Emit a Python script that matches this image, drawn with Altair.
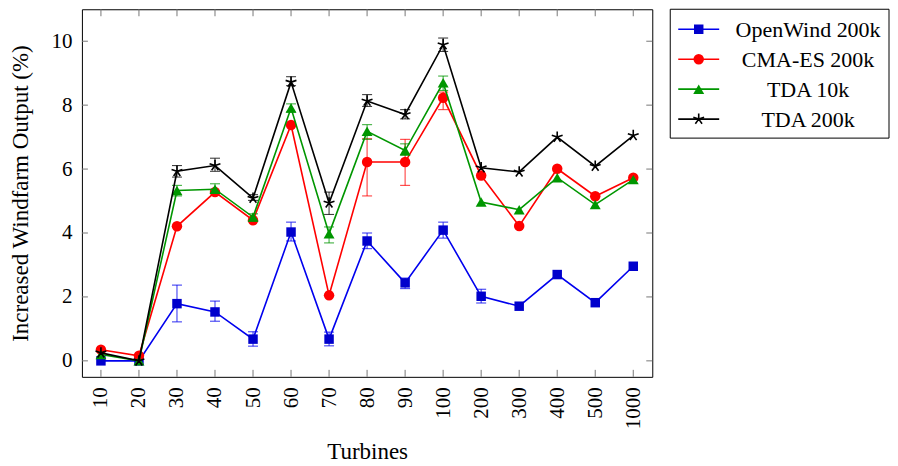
import altair as alt
import pandas as pd

categories = ["10", "20", "30", "40", "50", "60", "70", "80", "90", "100",
              "200", "300", "400", "500", "1000"]
series_names = ["OpenWind 200k", "CMA-ES 200k", "TDA 10k", "TDA 200k"]

openwind = [0.0, 0.0, 1.79, 1.53, 0.68, 4.03, 0.68, 3.75, 2.44, 4.09, 2.02, 1.71, 2.70, 1.82, 2.96]
openwind_lo = [None, None, 1.22, 1.24, 0.46, 3.75, 0.47, 3.51, 2.26, 3.84, 1.81, None, None, None, None]
openwind_hi = [None, None, 2.37, 1.87, 0.91, 4.34, 0.90, 4.00, 2.59, 4.34, 2.24, None, None, None, None]

cmaes = [0.35, 0.16, 4.21, 5.28, 4.40, 7.38, 2.05, 6.22, 6.22, 8.23, 5.80, 4.22, 6.01, 5.15, 5.73]
cmaes_lo = [None, None, None, None, None, None, None, 5.16, 5.49, 7.86, None, None, None, None, None]
cmaes_hi = [None, None, None, None, None, None, None, 6.95, 6.93, 8.41, None, None, None, None, None]

tda10 = [0.20, 0.0, 5.33, 5.37, 4.50, 7.91, 3.98, 7.18, 6.58, 8.70, 4.97, 4.73, 5.73, 4.89, 5.67]
tda10_lo = [None, None, 5.16, 5.24, 4.37, 7.78, 3.69, 6.93, 6.43, 8.46, None, None, None, None, None]
tda10_hi = [None, None, 5.49, 5.54, 4.60, 8.04, 4.19, 7.39, 6.79, 8.91, None, None, None, None, None]

tda200 = [0.25, 0.0, 5.93, 6.11, 5.09, 8.72, 4.94, 8.13, 7.71, 9.89, 6.04, 5.91, 7.00, 6.09, 7.05]
tda200_lo = [None, None, 5.75, 5.93, 5.02, 8.61, 4.58, 7.96, 7.57, 9.68, None, None, None, None, None]
tda200_hi = [None, None, 6.11, 6.34, 5.20, 8.89, 5.28, 8.33, 7.86, 10.10, None, None, None, None, None]

y_ticks = [0, 2, 4, 6, 8, 10]

values = [openwind, cmaes, tda10, tda200]
lows = [openwind_lo, cmaes_lo, tda10_lo, tda200_lo]
highs = [openwind_hi, cmaes_hi, tda10_hi, tda200_hi]

# styles
line_colors = ["#0000ee", "#ff0000", "#009600", "#000000"]
mark_fills = ["#0000cc", "#ff0000", "#009600", "#000000"]
STAR = "M0,-1L0,0M0,0L0.951,-0.309M0,0L0.588,0.809M0,0L-0.588,0.809M0,0L-0.951,-0.309"
shapes = ["square", "circle", "triangle-up", STAR]
sizes = [90, 110, 120, 130]

FONT = "Liberation Serif"
LABEL_FS = 21
TITLE_FS = 23
LEGEND_FS = 22
W, H = 571, 368
YTITLE = "Increased Windfarm Output (%)"

xscale = alt.Scale(type="point", padding=0.5)
yscale = alt.Scale(domain=[-0.5, 11], nice=False, zero=False)


def X():
    return alt.X("cat:O", sort=categories, scale=xscale,
                 axis=alt.Axis(title="Turbines", labelAngle=270, labelPadding=10,
                               tickSize=0, domain=False, titlePadding=12,
                               labelFont=FONT, titleFont=FONT, labelFontSize=LABEL_FS,
                               titleFontSize=TITLE_FS, titleFontWeight="normal",
                               labelColor="black", titleColor="black"))


def Y(field):
    return alt.Y(f"{field}:Q", scale=yscale, title=YTITLE,
                 axis=alt.Axis(values=y_ticks, tickSize=0, domain=False, grid=False,
                               labelPadding=10, titlePadding=18,
                               labelFont=FONT, titleFont=FONT, labelFontSize=LABEL_FS,
                               titleFontSize=TITLE_FS, titleFontWeight="normal",
                               labelColor="black", titleColor="black"))


layers = []

# inward ticks
ytick_df = pd.DataFrame({"v": y_ticks})
layers.append(alt.Chart(ytick_df).mark_rule(color="#777", strokeWidth=1).encode(
    y=Y("v"), x=alt.value(0), x2=alt.value(6)))
layers.append(alt.Chart(ytick_df).mark_rule(color="#777", strokeWidth=1).encode(
    y=Y("v"), x=alt.value(W - 6), x2=alt.value(W)))
xtick_df = pd.DataFrame({"cat": categories})
layers.append(alt.Chart(xtick_df).mark_rule(color="#777", strokeWidth=1).encode(
    x=X(), y=alt.value(0), y2=alt.value(7)))
layers.append(alt.Chart(xtick_df).mark_rule(color="#777", strokeWidth=1).encode(
    x=X(), y=alt.value(H - 7), y2=alt.value(H)))

for i, name in enumerate(series_names):
    df = pd.DataFrame({"cat": categories, "value": values[i], "lo": lows[i], "hi": highs[i]})
    base = alt.Chart(df)
    layers.append(base.mark_line(color=line_colors[i], strokeWidth=1.6).encode(x=X(), y=Y("value")))
    eb = base.transform_filter("isValid(datum.lo)")
    layers.append(eb.mark_rule(color=line_colors[i], opacity=0.75, strokeWidth=1.1).encode(
        x=X(), y=Y("lo"), y2="hi:Q"))
    layers.append(eb.mark_tick(color=line_colors[i], opacity=0.75, thickness=1.1, size=10,
                               orient="horizontal").encode(x=X(), y=Y("lo")))
    layers.append(eb.mark_tick(color=line_colors[i], opacity=0.75, thickness=1.1, size=10,
                               orient="horizontal").encode(x=X(), y=Y("hi")))
    if i == 3:
        pt = base.mark_point(shape=shapes[i], filled=False, color=mark_fills[i],
                             strokeWidth=1.6, size=sizes[i], opacity=1)
    else:
        pt = base.mark_point(shape=shapes[i], filled=True, color=mark_fills[i],
                             size=sizes[i], opacity=1)
    layers.append(pt.encode(x=X(), y=Y("value")))

# legend (drawn by hand, as in the pgfplots original)
one = alt.Data(values=[{"k": 0}])
LX0, LX1 = 589, 808
layers.append(alt.Chart(one).mark_rect(fill="white", stroke="black", strokeWidth=1).encode(
    x=alt.value(LX0), x2=alt.value(LX1), y=alt.value(0), y2=alt.value(129)))
row_y = [20, 50, 80, 110]
for i, name in enumerate(series_names):
    ry = row_y[i]
    layers.append(alt.Chart(one).mark_rule(color=line_colors[i], strokeWidth=1.6).encode(
        x=alt.value(597), x2=alt.value(638), y=alt.value(ry)))
    if i == 3:
        lp = alt.Chart(one).mark_point(shape=shapes[i], filled=False, color=mark_fills[i],
                                       strokeWidth=1.6, size=sizes[i], opacity=1)
    else:
        lp = alt.Chart(one).mark_point(shape=shapes[i], filled=True, color=mark_fills[i],
                                       size=sizes[i], opacity=1)
    layers.append(lp.encode(x=alt.value(617.5), y=alt.value(ry)))
    layers.append(alt.Chart(one).mark_text(font=FONT, fontSize=LEGEND_FS, align="center",
                                           baseline="middle", color="black").encode(
        x=alt.value(727), y=alt.value(ry + 1), text=alt.value(name)))

chart = alt.layer(*layers).properties(
    width=W, height=H,
    background="white",
    padding={"left": 2, "top": 0, "right": 0, "bottom": 0},
).configure_view(
    stroke="black", strokeWidth=1
)

chart.save("out.html", embed_options={"renderer": "svg", "actions": False})
